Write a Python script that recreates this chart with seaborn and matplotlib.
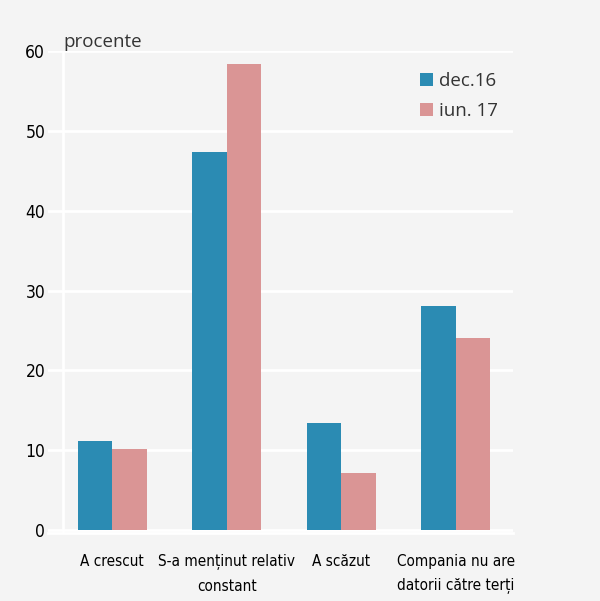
import matplotlib
matplotlib.use("Agg")
import matplotlib.pyplot as plt
import seaborn as sns
import pandas as pd
from matplotlib.patches import Patch

categories = ["A crescut", "S-a menținut relativ\nconstant", "A scăzut", "Compania nu are\ndatorii către terți"]
series_names = ["dec.16", "iun. 17"]
dec16 = [11.1, 47.4, 13.4, 28.1]
iun17 = [10.1, 58.4, 7.1, 24.1]
yticks = [0, 10, 20, 30, 40, 50, 60]

colors = ["#2b8bb3", "#da9595"]
bg = "#f4f4f4"

df = pd.DataFrame({
    "cat": categories * 2,
    "serie": [series_names[0]] * 4 + [series_names[1]] * 4,
    "val": dec16 + iun17,
})

sns.set_theme(style="white")
plt.rcParams["font.family"] = ["Open Sans", "DejaVu Sans"]

W, H = 600, 601
fig = plt.figure(figsize=(6, 6.01), dpi=100, facecolor=bg)
L, R, T, B = 48, 513, 51, 533
ax = fig.add_axes([L / W, 1 - B / H, (R - L) / W, (B - T) / H])
ax.set_facecolor(bg)

sns.barplot(data=df, x="cat", y="val", hue="serie", palette=colors, order=categories,
            hue_order=series_names, width=0.6, gap=0, saturation=1, ax=ax, legend=False,
            linewidth=0, zorder=3)

cw = (513 - 55) / 4.0
ax.set_xlim(-0.5 - 7 / cw, 3.5)
y0 = -(533 - 530) / ((530 - 51) / 60.0)
ax.set_ylim(y0, 60)

for s in ["top", "right", "left"]:
    ax.spines[s].set_visible(False)
ax.spines["bottom"].set_color("white")
ax.spines["bottom"].set_linewidth(2)

tick_font = dict(family=["DejaVu Sans"], fontstretch="condensed", color="#000000")

ax.set_yticks(yticks)
ax.set_yticklabels([str(v) for v in yticks], fontsize=12.5, **tick_font)
ax.tick_params(axis="y", length=0, pad=2)
for v in yticks:
    ax.axhline(v, color="white", lw=2, zorder=1)
ax.axvline(-0.5 + 8 / cw, color="white", lw=2, zorder=1)

ax.set_xticks([-0.5, 0.5, 1.5, 2.5, 3.5])
ax.set_xticklabels([])
ax.set_xticks([0, 1, 2, 3], minor=True)
ax.set_xticklabels(categories, minor=True, fontsize=11, linespacing=1.75, **tick_font)
ax.tick_params(axis="x", which="major", length=5, width=2, color="white", direction="out")
ax.tick_params(axis="x", which="minor", length=0, pad=15)
ax.set_xlabel("")
ax.set_ylabel("")

fig.text(63 / W, 1 - 47 / H, "procente", fontsize=13.5, color="#333333", ha="left", va="baseline")

handles = [Patch(facecolor=c, edgecolor="none") for c in colors]
leg = fig.legend(handles, series_names, loc="upper left", bbox_to_anchor=(403 / W, 1 - 55 / H),
                 frameon=False, fontsize=13.5, handlelength=0.7, handleheight=0.7,
                 handletextpad=0.3, labelspacing=0.65, labelcolor="#333333")

fig.savefig("out.png", dpi=100, facecolor=bg)
